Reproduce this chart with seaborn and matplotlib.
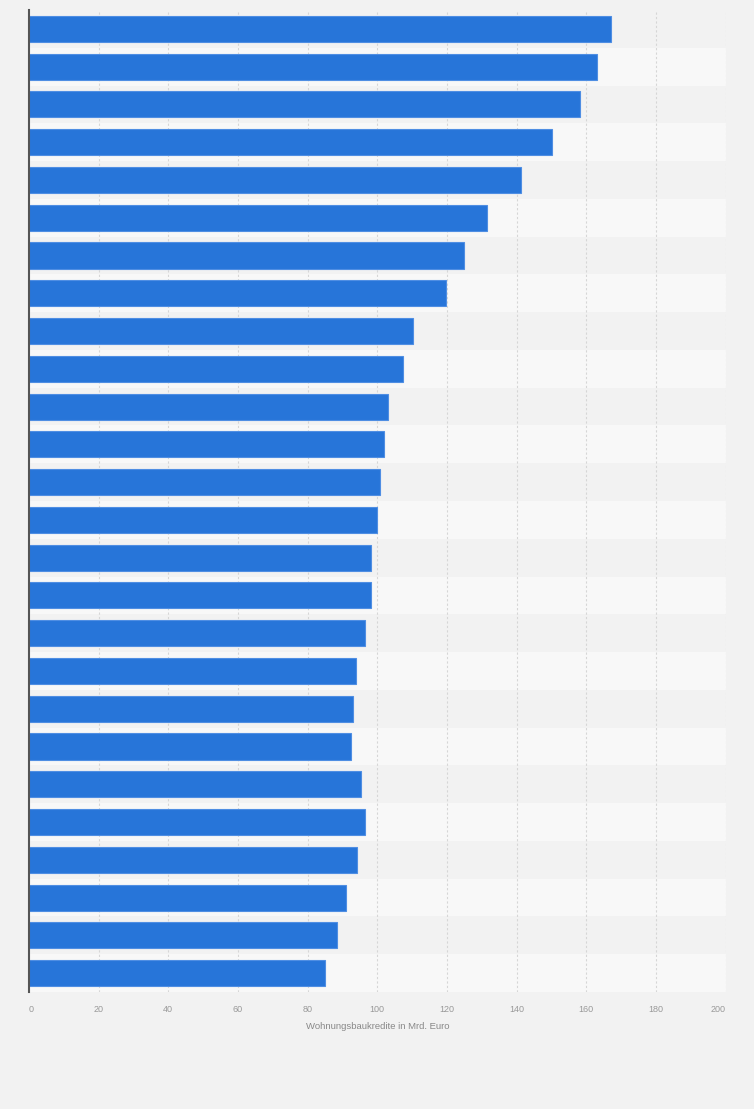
import matplotlib
matplotlib.use("Agg")
import matplotlib.pyplot as plt
import seaborn as sns
import pandas as pd

# values (Mrd. Euro), top to bottom; category names are not shown
ranks = ["Rang %d" % i for i in range(1, 27)]
kredite = [167.0, 163.0, 158.2, 150.1, 141.2, 131.6, 125.0, 119.7, 110.2, 107.3,
           103.2, 101.8, 100.9, 100.0, 98.3, 98.3, 96.6, 94.0, 92.9, 92.6,
           95.4, 96.6, 94.3, 91.1, 88.5, 85.1]
xticks = [0, 20, 40, 60, 80, 100, 120, 140, 160, 180, 200]
xlabel = "Wohnungsbaukredite in Mrd. Euro"

df = pd.DataFrame({"rang": ranks, "wert": kredite})

sns.set_theme(style="white")
plt.rcParams["font.family"] = ["Liberation Sans", "DejaVu Sans"]

bg = "#f2f2f2"
fig = plt.figure(figsize=(7.54, 11.09), dpi=100, facecolor=bg)
ax = fig.add_axes([29 / 754, 1 - 992 / 1109, (725.5 - 29) / 754, (992 - 10) / 1109])
ax.set_facecolor(bg)

# alternating row bands
for i in range(len(ranks)):
    if i % 2 == 1:
        ax.axhspan(i - 0.5, i + 0.5, color="#f8f8f8", zorder=0, lw=0)

sns.barplot(data=df, x="wert", y="rang", orient="h", color="#2775d9",
            saturation=1, width=0.69, edgecolor="#4f8ee3", linewidth=0.8,
            ax=ax, zorder=3)

ax.set_xlim(0, 200)
ax.set_ylim(len(ranks) - 0.5, -0.5)
ax.set_xticks(xticks)
ax.set_xticklabels([str(t) for t in xticks], fontsize=6.5, color="#999999")
ax.tick_params(axis="x", length=0, pad=9)
labels = ax.get_xticklabels()
labels[0].set_ha("left")
labels[-1].set_ha("right")
ax.set_yticks([])
ax.set_ylabel("")
ax.set_xlabel(xlabel, fontsize=6.8, color="#888888", labelpad=6)

for t in xticks[1:]:
    ax.axvline(t, color="#d6d6d6", lw=0.8, ls=(0, (2, 2)), zorder=1)

for s in ["top", "right", "bottom"]:
    ax.spines[s].set_visible(False)
ax.spines["left"].set_color("#555555")
ax.spines["left"].set_linewidth(1.5)
ax.spines["left"].set_zorder(5)

fig.savefig("out.png", dpi=100, facecolor=bg)
